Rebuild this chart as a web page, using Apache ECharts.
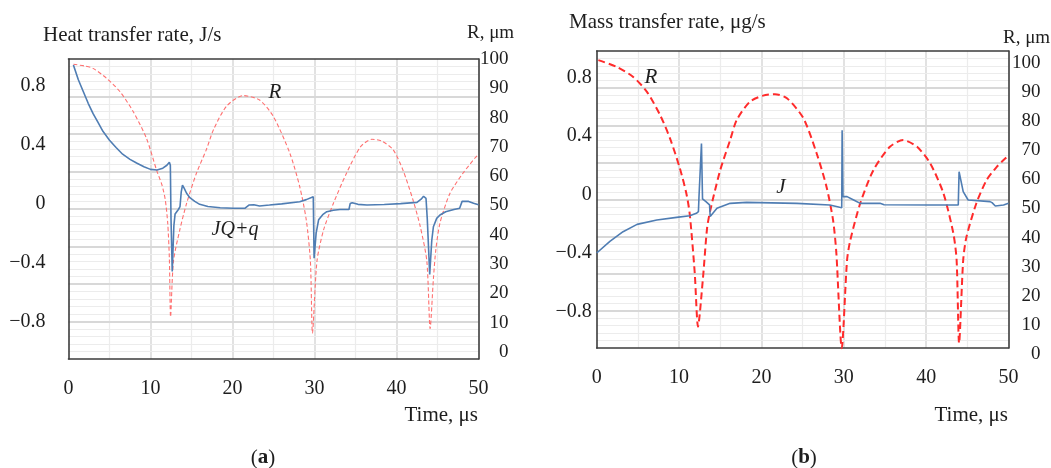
<!DOCTYPE html>
<html>
<head>
<meta charset="utf-8">
<script src="https://cdn.jsdelivr.net/npm/echarts@6/dist/echarts.min.js"></script>
<style>
html,body{margin:0;padding:0;background:#fff;}
#c{width:1051px;height:468px;}
</style>
</head>
<body>
<div id="c"></div>
<script>
// ---------- data ----------
const timeTicks = [0, 10, 20, 30, 40, 50];
const rateTicks = [-0.8, -0.4, 0, 0.4, 0.8];
const radiusTicks = [0, 10, 20, 30, 40, 50, 60, 70, 80, 90, 100];

// (a) heat transfer rate JQ+q, J/s
const heatTime = [0.6, 1.2, 1.8, 2.4, 3.0, 3.6, 4.2, 5.0, 5.8, 6.6, 7.5, 8.3, 9.2, 10.0, 10.8, 11.5, 12.0, 12.3, 12.42,
  12.5, 12.65, 12.85, 13.0, 13.4, 13.6, 13.75, 13.9, 14.1, 14.4, 14.8, 15.4, 16.0, 17.0, 18.5, 20.1, 21.5, 22.0, 22.2, 22.6,
  23.3, 24.5, 26.0, 28.2, 29.0, 29.85, 29.95, 30.2, 30.5, 31.0, 31.5, 32.3, 33.1, 34.2, 34.35, 34.6, 35.3, 36.4, 38.5,
  40.5, 42.5, 43.0, 43.3, 43.6, 43.75, 44.05, 44.3, 44.5, 44.9, 45.3, 46.0, 47.0, 47.7, 48.0, 48.2, 48.8, 49.4, 50.0];
const heatRate = [0.94, 0.84, 0.76, 0.68, 0.61, 0.55, 0.49, 0.43, 0.38, 0.335, 0.30, 0.275, 0.25, 0.232, 0.228, 0.24, 0.26, 0.28, 0.26,
  -0.1, -0.46, -0.15, -0.07, -0.04, -0.02, 0.08, 0.125, 0.105, 0.07, 0.04, 0.015, -0.005, -0.02, -0.028, -0.032, -0.032, -0.01, -0.004, -0.008,
  -0.016, -0.01, -0.002, 0.013, 0.027, 0.047, -0.37, -0.2, -0.11, -0.075, -0.055, -0.045, -0.04, -0.04, 0.0, 0.006, -0.005, -0.01, -0.006,
  0.0, 0.008, 0.03, 0.05, 0.035, -0.1, -0.48, -0.25, -0.157, -0.1, -0.077, -0.055, -0.04, -0.032, 0.015, 0.025, 0.015, 0.002, -0.008];

// (a) bubble radius R, um
const heatRTime = [0.6, 2.0, 3.0, 4.65, 6.3, 7.9, 9.5, 10.75, 11.4, 11.8, 12.1, 12.3, 12.45,
  12.8, 13.6, 14.4, 15.6, 16.8, 17.7, 19.3, 21.3, 23.3, 25.0, 27.0, 28.2, 29.0, 29.5, 29.75,
  30.3, 31.1, 32.3, 33.9, 35.6, 37.0, 38.2, 39.6, 40.8, 42.0, 42.9, 43.7, 44.1,
  44.5, 44.8, 45.3, 46.5, 48.1, 49.6, 50.0];
const heatR = [98.2, 97.6, 96.8, 93.4, 88.8, 82, 73, 62, 57, 52, 44, 32, 12,
  31, 42, 50.7, 61, 69, 76, 84, 87.5, 86, 80.3, 67.8, 56.4, 45, 31, 6.4,
  31, 41.6, 50.7, 61, 70, 72.6, 72, 69, 62, 52, 42.8, 31, 8,
  25, 35, 44, 54, 61, 66.3, 67.5];

// (b) mass transfer rate J, ug/s
const massTime = [0, 1.6, 3.2, 4.9, 7.3, 9.7, 11.3, 12.1, 12.35, 12.42, 12.5, 12.62, 12.72, 12.85, 13.3, 13.7, 13.78,
  14.6, 16.2, 18.2, 24.3, 28.3, 29.5, 29.75, 29.8, 29.9, 30.4, 31.2, 32.0, 34.4, 34.9, 35.0, 35.1, 40.5, 43.9, 44.0,
  44.5, 45.1, 47.75, 48.0, 48.4, 49.4, 50.0];
const massRate = [-0.40, -0.32, -0.254, -0.204, -0.174, -0.156, -0.145, -0.128, -0.117, -0.015, -0.02, -0.02, 0.35, -0.03, -0.05, -0.07, -0.15,
  -0.094, -0.06, -0.053, -0.06, -0.071, -0.087, -0.09, 0.44, -0.014, -0.014, -0.037, -0.06, -0.06, -0.07, -0.083, -0.07, -0.071, -0.071, 0.157,
  0.02, -0.037, -0.048, -0.055, -0.078, -0.071, -0.06];

// (b) bubble radius R, um
const massRTime = [0.2, 2.4, 4.4, 6.1, 7.7, 8.9, 10.1, 10.9, 11.3, 11.9, 12.3,
  12.9, 13.4, 13.8, 15.0, 16.2, 17.0, 18.6, 20.2, 21.65, 23.1, 25.1, 26.7, 27.9, 28.7, 29.1, 29.75,
  30.4, 30.8, 32.0, 33.6, 35.6, 37.2, 38.9, 40.5, 42.1, 43.3, 43.7, 44.0,
  44.5, 44.9, 46.1, 47.35, 48.6, 49.6, 50.0];
const massR = [101, 98.7, 95.3, 90.1, 82.1, 74.1, 63.8, 55, 48, 28, 9.4,
  26, 43.2, 49.5, 63.2, 73.5, 80.4, 86.7, 88.8, 89.3, 87.9, 81, 69, 57.5, 46, 34.6, 2,
  32.3, 39.2, 51.8, 63.2, 71.2, 73.5, 71.2, 65.5, 55.2, 41.5, 32.3, 3.7,
  32.3, 40.3, 51.8, 59.8, 64.4, 67.2, 68];

// ---------- chart ----------
const zip = (a, b) => a.map((v, i) => [v, b[i]]);
const FONT = '"Liberation Serif", "DejaVu Serif", serif';
const TXT = '#1e1e1e';
const FRAME = '#3c3c3c';
const fmtRate = v => Math.abs(v) < 1e-9 ? '0' : (v < 0 ? '\u2212' : '') + Math.abs(v).toFixed(1);

const panels = [
  {left: 68.5, width: 410, top: 59, height: 300, lblTop: 85.6, lblBottom: 321.6, rTop: 59, rBottom: 352, lMargin: 23, rMargin: 30},
  {left: 596.7, width: 411.8, top: 51, height: 297, lblTop: 77.8, lblBottom: 311.4, rTop: 63, rBottom: 354, lMargin: 5, rMargin: 32}
];

const frameLine = {show: true, onZero: false, lineStyle: {color: FRAME, width: 1.6}};
const grid = [], xAxis = [], yAxis = [];
panels.forEach((p, k) => {
  const g0 = k * 3;
  grid.push({left: p.left, width: p.width, top: p.top, height: p.height, containLabel: false, outerBoundsMode: 'none'});
  grid.push({left: p.left, width: p.width, top: p.lblTop, height: p.lblBottom - p.lblTop, containLabel: false, outerBoundsMode: 'none'});
  grid.push({left: p.left, width: p.width, top: p.rTop, height: p.rBottom - p.rTop, containLabel: false, outerBoundsMode: 'none'});
  // box x axis (bottom) with labels and vertical grid lines
  xAxis.push({
    gridIndex: g0, type: 'value', position: 'bottom', min: timeTicks[0], max: timeTicks[timeTicks.length - 1], interval: 10,
    axisLine: frameLine, axisTick: {show: false},
    axisLabel: {color: TXT, fontFamily: FONT, fontSize: 20, margin: 20},
    splitLine: {show: true, showMinLine: false, showMaxLine: false, lineStyle: {color: '#d8d8d8', width: 1.5}},
    minorTick: {show: false, splitNumber: 2},
    minorSplitLine: {show: true, lineStyle: {color: '#ececec', width: 1.2}}, z: 2
  });
  // top frame
  xAxis.push({gridIndex: g0, type: 'value', position: 'top', min: 0, max: 50,
    axisLine: frameLine, axisTick: {show: false}, axisLabel: {show: false}, splitLine: {show: false}, z: 3});
  xAxis.push({gridIndex: g0 + 1, type: 'value', min: 0, max: 50, show: false});
  xAxis.push({gridIndex: g0 + 2, type: 'value', min: 0, max: 50, show: false});
  // box y axis left with horizontal grid lines
  yAxis.push({
    gridIndex: g0, type: 'value', position: 'left', min: 0, max: 8, interval: 1,
    axisLine: frameLine, axisTick: {show: false}, axisLabel: {show: false},
    splitLine: {show: true, showMinLine: false, showMaxLine: false, lineStyle: {color: '#d8d8d8', width: 1.8}},
    minorTick: {show: false, splitNumber: 5},
    minorSplitLine: {show: true, lineStyle: {color: '#ececec', width: 1.2}}, z: 3
  });
  yAxis.push({gridIndex: g0, type: 'value', position: 'right', min: 0, max: 8,
    axisLine: frameLine, axisTick: {show: false}, axisLabel: {show: false}, splitLine: {show: false}, z: 3});
  // rate axis labels
  yAxis.push({gridIndex: g0 + 1, type: 'value', position: 'left', min: rateTicks[0], max: rateTicks[rateTicks.length - 1], interval: 0.4,
    axisLine: {show: false}, axisTick: {show: false}, splitLine: {show: false},
    axisLabel: {color: TXT, fontFamily: FONT, fontSize: 20, margin: p.lMargin, padding: [4, 0, 0, 0], formatter: fmtRate}});
  // radius axis labels
  yAxis.push({gridIndex: g0 + 2, type: 'value', position: 'right', min: radiusTicks[0], max: radiusTicks[radiusTicks.length - 1], interval: 10,
    axisLine: {show: false}, axisTick: {show: false}, splitLine: {show: false},
    axisLabel: {color: TXT, fontFamily: FONT, fontSize: 19, margin: p.rMargin, align: 'right', padding: [4, 0, 0, 0]}});
});

const series = [
  {type: 'line', name: 'R', xAxisIndex: 3, yAxisIndex: 3, data: zip(heatRTime, heatR), showSymbol: false, clip: false, smooth: 0.25,
    lineStyle: {color: '#ff7070', width: 1.1, type: [4, 2.5]}, z: 4},
  {type: 'line', name: 'JQ+q', xAxisIndex: 2, yAxisIndex: 2, data: zip(heatTime, heatRate), showSymbol: false, clip: false,
    lineStyle: {color: '#4f7db3', width: 1.6}, z: 5},
  {type: 'line', name: 'R', xAxisIndex: 7, yAxisIndex: 7, data: zip(massRTime, massR), showSymbol: false, clip: false, smooth: 0.25,
    lineStyle: {color: '#ff2b2b', width: 2, type: [7, 4]}, z: 4},
  {type: 'line', name: 'J', xAxisIndex: 6, yAxisIndex: 6, data: zip(massTime, massRate), showSymbol: false, clip: false,
    lineStyle: {color: '#4f7db3', width: 1.6}, z: 5}
];

const txt = (x, y, text, opts) => Object.assign({type: 'text', x: x, y: y, z: 10,
  style: Object.assign({text: text, font: '21px ' + FONT, fill: TXT, align: 'left', verticalAlign: 'middle'}, opts || {})});

const graphic = [
  txt(43, 35, 'Heat transfer rate, J/s'),
  txt(467, 33, 'R, \u03bcm', {font: '19px ' + FONT}),
  txt(478, 415, 'Time, \u03bcs', {align: 'right'}),
  txt(275, 92, 'R', {font: 'italic 21px ' + FONT, align: 'center'}),
  txt(235, 230, 'JQ+q', {font: 'italic 20px ' + FONT, align: 'center'}),
  txt(569, 22, 'Mass transfer rate, \u03bcg/s'),
  txt(1003, 38, 'R, \u03bcm', {font: '19px ' + FONT}),
  txt(1008, 415, 'Time, \u03bcs', {align: 'right'}),
  txt(651, 77, 'R', {font: 'italic 21px ' + FONT, align: 'center'}),
  txt(781, 187, 'J', {font: 'italic 21px ' + FONT, align: 'center'}),
  {type: 'text', x: 263, y: 458, z: 10, style: {text: '{n|(}{b|a}{n|)}', align: 'center', verticalAlign: 'middle',
    rich: {n: {font: '21px ' + FONT, fill: TXT}, b: {font: 'bold 21px ' + FONT, fill: TXT}}}},
  {type: 'text', x: 804, y: 458, z: 10, style: {text: '{n|(}{b|b}{n|)}', align: 'center', verticalAlign: 'middle',
    rich: {n: {font: '21px ' + FONT, fill: TXT}, b: {font: 'bold 21px ' + FONT, fill: TXT}}}}
];

const chart = echarts.init(document.getElementById('c'), null, {renderer: 'canvas'});
chart.setOption({
  backgroundColor: '#ffffff',
  animation: false,
  textStyle: {fontFamily: FONT},
  grid: grid, xAxis: xAxis, yAxis: yAxis, series: series, graphic: graphic
});
</script>
</body>
</html>
